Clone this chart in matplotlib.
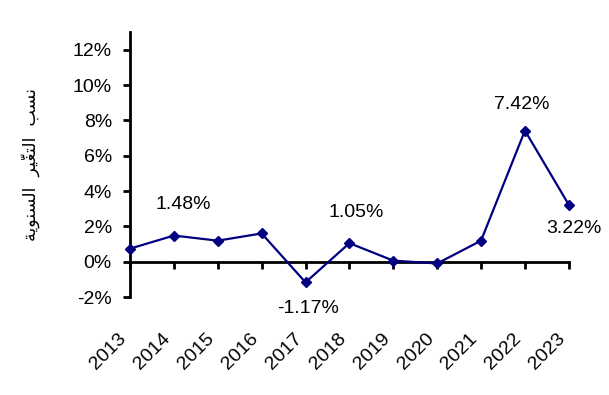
import matplotlib
matplotlib.use("Agg")
import matplotlib.pyplot as plt
from matplotlib.ticker import PercentFormatter

plt.rcParams['font.family'] = ['Liberation Sans', 'DejaVu Sans']
plt.rcParams['axes.unicode_minus'] = False

years = [2013, 2014, 2015, 2016, 2017, 2018, 2019, 2020, 2021, 2022, 2023]
change = [0.74, 1.48, 1.19, 1.60, -1.17, 1.05, 0.06, -0.10, 1.19, 7.42, 3.22]
labelled = {2014: 1.48, 2017: -1.17, 2018: 1.05, 2022: 7.42, 2023: 3.22}
y_ticks = [-2, 0, 2, 4, 6, 8, 10, 12]

# Arabic label "نسب التغيّر السنوية" written in presentation forms, visual order
ylabel_ar = ("\uFE94\uFEF3\uFEEE\uFEE8\uFEB4\uFEDF\uFE8D" + "  "
             + "\uFEAE\uFEF4\u0651\uFED0\uFE98\uFEDF\uFE8D" + "  "
             + "\uFE90\uFEB4\uFEE7")

fig = plt.figure(figsize=(6.09, 3.95), dpi=100)
ax = fig.add_axes([0.2135, 0.248, 0.7205, 0.671])

ax.plot(years, change, color='#000080', linewidth=1.6, marker='D', markersize=5.5,
        clip_on=False, zorder=3)

# offsets in points from each labelled point
offsets = {2014: (7, 22), 2017: (2, -19), 2018: (5, 22), 2022: (-2, 19), 2023: (4, -17)}
for yr, val in labelled.items():
    ax.annotate(f"{val:.2f}%", xy=(yr, val), xytext=offsets[yr], textcoords='offset points',
                ha='center', va='center', fontsize=14, annotation_clip=False)

ax.set_xlim(2013, 2023)
ax.set_ylim(-2, 13)
ax.set_yticks(y_ticks)
ax.yaxis.set_major_formatter(PercentFormatter(decimals=0))
ax.set_xticks(years)
ax.set_xticklabels([str(y) for y in years])

for s in ['top', 'right']:
    ax.spines[s].set_visible(False)
ax.spines['bottom'].set_position(('data', 0))
ax.spines['bottom'].set_linewidth(2)
ax.spines['left'].set_linewidth(2)
ax.tick_params(axis='y', direction='out', length=5, width=2, pad=8, labelsize=14)
ax.tick_params(axis='x', direction='out', length=5, width=2, pad=44, labelsize=14,
               labelrotation=45)
for lbl in ax.get_xticklabels():
    lbl.set_ha('right')
    lbl.set_va('top')

ax.set_ylabel(ylabel_ar, family=['DejaVu Sans'], fontsize=12.5)
ax.yaxis.set_label_coords(-0.205, 0.5)

fig.savefig("out.png", dpi=100)
